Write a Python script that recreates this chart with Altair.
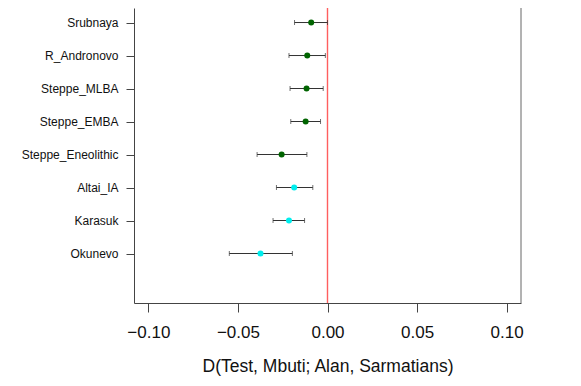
import altair as alt
import pandas as pd

# populations, top to bottom
pops = ["Srubnaya", "R_Andronovo", "Steppe_MLBA", "Steppe_EMBA",
        "Steppe_Eneolithic", "Altai_IA", "Karasuk", "Okunevo"]
d_val = [-0.0091, -0.0113, -0.0117, -0.0122, -0.0256, -0.0186, -0.0215, -0.0374]
d_lo = [-0.0184, -0.0215, -0.0209, -0.0205, -0.0393, -0.0285, -0.0304, -0.0548]
d_hi = [0.0000, -0.0012, -0.0024, -0.0039, -0.0115, -0.0082, -0.0128, -0.0196]
group = ["steppe", "steppe", "steppe", "steppe", "steppe", "east", "east", "east"]
x_ticks = [-0.10, -0.05, 0.00, 0.05, 0.10]
ref_value = [0.0]
x_limits = [-0.108, 0.108]

n = len(pops)
df = pd.DataFrame({
    "pop": pops,
    "pos": [n - i for i in range(n)],
    "D": d_val,
    "lo": d_lo,
    "hi": d_hi,
    "group": group,
})
ref_df = pd.DataFrame({"x": ref_value})
edge_df = pd.DataFrame({"x": [x_limits[1]]})

FONT = "Liberation Sans"

label_arr = "[" + ",".join(["''"] + ["'%s'" % p for p in reversed(pops)]) + "]"

xscale = alt.Scale(domain=x_limits, nice=False, zero=False)
yscale = alt.Scale(domain=[-0.5, 8.44], nice=False, zero=False)

x_axis = alt.Axis(values=x_ticks, format=".2f", title="D(Test, Mbuti; Alan, Sarmatians)",
                  grid=False, domainColor="#444", tickColor="#444", tickSize=9,
                  labelFontSize=17, labelFont=FONT, labelColor="#111", labelPadding=12,
                  titleFontSize=17.5, titleFont=FONT, titleFontWeight="normal",
                  titleColor="#111", titlePadding=17, labelFlush=False)
y_axis = alt.Axis(values=list(range(1, n + 1)), labelExpr=label_arr + "[datum.value]",
                  title=None, grid=False, domainColor="#444", tickColor="#444",
                  tickSize=8, labelFontSize=12, labelFont=FONT, labelColor="#111",
                  labelPadding=8)

base = alt.Chart(df)

zero_line = alt.Chart(ref_df).mark_rule(strokeWidth=1.4, stroke="#ff2a2a", color="#ff2a2a",
                                        strokeOpacity=0.75).encode(
    x=alt.X("x:Q", scale=xscale, axis=x_axis), y=alt.value(0), y2=alt.value(295),
)
right_border = alt.Chart(edge_df).mark_rule(strokeWidth=1, stroke="#666666").encode(
    x=alt.X("x:Q"), y=alt.value(0), y2=alt.value(295),
)
bars = base.mark_rule(strokeWidth=1, stroke="#333333").encode(
    x=alt.X("lo:Q"),
    x2="hi:Q",
    y=alt.Y("pos:Q", scale=yscale, axis=y_axis),
)
cap_lo = base.mark_tick(thickness=1, size=5, orient="vertical", color="#333333").encode(
    x=alt.X("lo:Q"), y=alt.Y("pos:Q")
)
cap_hi = base.mark_tick(thickness=1, size=5, orient="vertical", color="#333333").encode(
    x=alt.X("hi:Q"), y=alt.Y("pos:Q")
)
dots = base.mark_circle(size=36, opacity=1).encode(
    x=alt.X("D:Q"),
    y=alt.Y("pos:Q"),
    color=alt.Color("group:N", scale=alt.Scale(domain=["steppe", "east"],
                                                 range=["#006400", "#00EEEE"]), legend=None),
)

chart = alt.layer(zero_line, right_border, bars, cap_lo, cap_hi, dots).properties(
    width=387, height=295,
    autosize=alt.AutoSizeParams(type="none"),
    padding={"left": 126, "top": 0, "right": 50, "bottom": 75},
    background="white",
).configure_view(stroke=None)

chart.save("out.html", embed_options={"renderer": "svg", "actions": False})
